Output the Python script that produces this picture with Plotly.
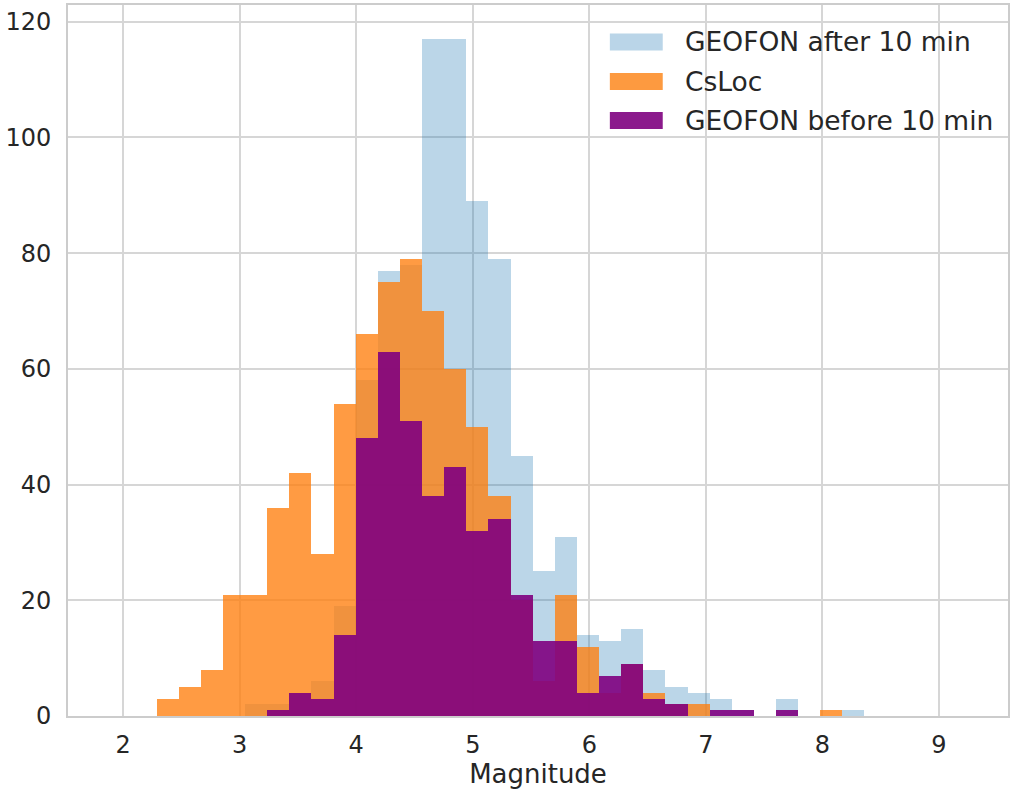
import numpy as np
import plotly.graph_objects as go

# Histogram bins shared by all three series (magnitude)
BIN_START = 2.287
BIN_WIDTH = 0.1898
N_BINS = 32

series_names = ["GEOFON after 10 min", "CsLoc", "GEOFON before 10 min"]

geofon_after = [0, 0, 0, 0, 2, 2, 4, 6, 19, 58, 77, 78, 117, 117, 89, 79,
                45, 25, 31, 14, 13, 15, 8, 5, 4, 3, 1, 0, 3, 0, 0, 1]
csloc = [3, 5, 8, 21, 21, 36, 42, 28, 54, 66, 75, 79, 70, 60, 50, 38,
         20, 6, 21, 12, 4, 9, 4, 2, 2, 0, 0, 0, 0, 0, 1, 0]
geofon_before = [0, 0, 0, 0, 0, 1, 4, 3, 14, 48, 63, 51, 38, 43, 32, 34,
                 21, 13, 13, 4, 7, 9, 3, 2, 0, 1, 1, 0, 1, 0, 0, 0]

x_ticks = [2, 3, 4, 5, 6, 7, 8, 9]
y_ticks = [0, 20, 40, 60, 80, 100, 120]

colors = ["rgba(31,119,180,0.3)", "rgba(255,127,14,0.78)", "rgba(128,0,128,0.9)"]
legend_colors = ["#bad5e8", "#fd9a40", "#8b1a8c"]

edges = BIN_START + BIN_WIDTH * np.arange(N_BINS + 1)
centers = (edges[:-1] + edges[1:]) / 2

FONT = "DejaVu Sans"
fig = go.Figure()
for name, vals, col in zip(series_names, [geofon_after, csloc, geofon_before], colors):
    fig.add_trace(go.Bar(
        x=centers, y=vals, width=BIN_WIDTH, name=name,
        marker=dict(color=col, line=dict(width=0)),
        showlegend=False,
    ))

W, H = 1011, 791
ML, MR, MT, MB = 68, 1, 5, 75
pw, ph = W - ML - MR, H - MT - MB

def px_x(p):
    return (p - ML) / pw

def px_y(p):
    return (H - MB - p) / ph

shapes = []
annotations = []
row_centers = [42, 81.5, 120.5]
for name, lc, yc in zip(series_names, legend_colors, row_centers):
    shapes.append(dict(type="rect", xref="paper", yref="paper",
                       x0=px_x(611), x1=px_x(664), y0=px_y(yc + 8.5), y1=px_y(yc - 8.5),
                       fillcolor=lc, line=dict(width=0), layer="above"))
    annotations.append(dict(xref="paper", yref="paper", x=px_x(684), y=px_y(yc),
                            xanchor="left", yanchor="middle", text=name, showarrow=False,
                            font=dict(family=FONT, size=26.5, color="#262626")))

fig.update_layout(
    width=W, height=H,
    margin=dict(l=ML, r=MR, t=MT, b=MB),
    barmode="overlay", bargap=0,
    plot_bgcolor="white", paper_bgcolor="white",
    font=dict(family=FONT, size=24, color="#262626"),
    shapes=shapes, annotations=annotations,
    xaxis=dict(range=[1.527, 9.592], tickvals=x_ticks, ticks="",
               showgrid=True, gridcolor="#d6d6d6", gridwidth=2,
               showline=True, linecolor="#cccccc", linewidth=2, mirror=True,
               zeroline=False, ticklabelstandoff=6,
               title=dict(text="Magnitude", font=dict(size=26, family=FONT), standoff=7)),
    yaxis=dict(range=[0, 122.9], tickvals=y_ticks, ticks="",
               showgrid=True, gridcolor="#d6d6d6", gridwidth=2,
               showline=True, linecolor="#cccccc", linewidth=2, mirror=True,
               zeroline=False, ticklabelstandoff=10),
)

fig.write_html("out.html")
